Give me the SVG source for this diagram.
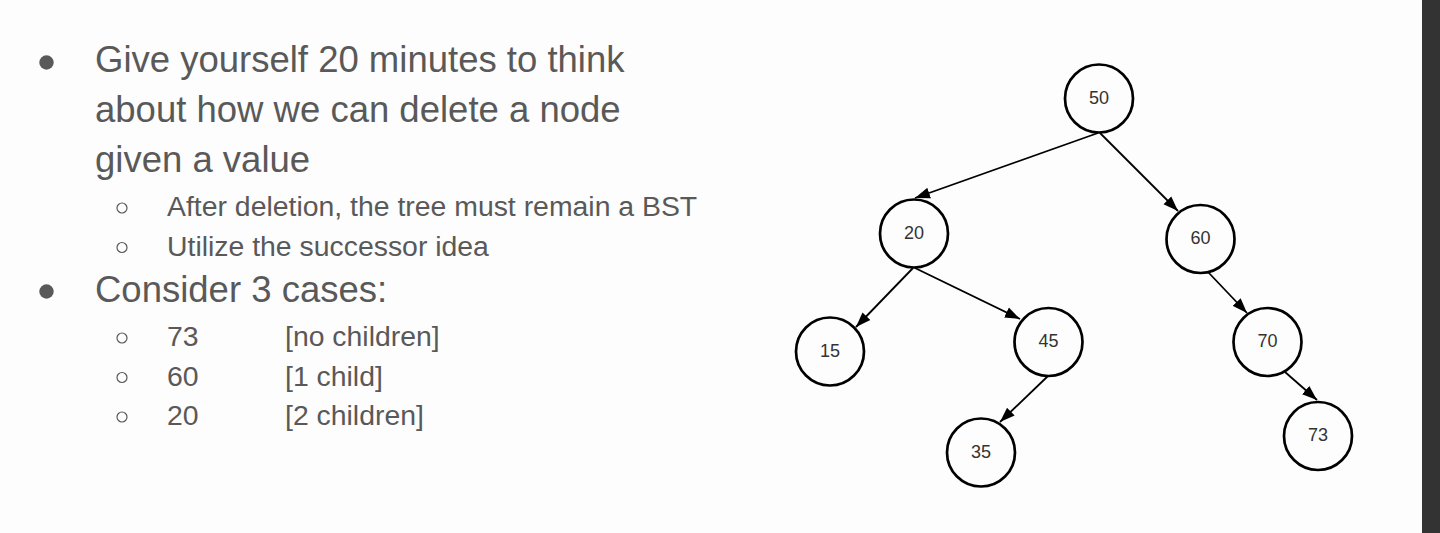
<svg xmlns="http://www.w3.org/2000/svg" width="1440" height="533" viewBox="0 0 1440 533">
<defs>
<style>
.t{font-family:"Liberation Sans",Arial,sans-serif;fill:#595959}
.h{font-size:36.5px}
.s{font-size:28.4px}
.node circle{fill:none;stroke:#000;stroke-width:2.7}
.node text{font-family:"Liberation Sans",Arial,sans-serif;font-size:18px;fill:#333;text-anchor:middle}
.edge{stroke:#000;stroke-width:1.8;fill:none;marker-end:url(#ah)}
.b{fill:#595959}
.sb{fill:none;stroke:#595959;stroke-width:1.2}
</style>
<marker id="ah" markerUnits="userSpaceOnUse" markerWidth="16" markerHeight="12" refX="15" refY="6" orient="auto" viewBox="0 0 16 12">
<path d="M0,0.5 L15,6 L0,11.5 z" fill="#000"/>
</marker>
</defs>
<rect x="0" y="0" width="1440" height="533" fill="#fdfdfd"/>
<rect x="1422" y="0" width="18" height="533" fill="#333"/>
<g id="text">
<circle class="b" cx="46.5" cy="62.5" r="7.2"/>
<text class="t h" x="95" y="72">Give yourself 20 minutes to think</text>
<text class="t h" x="95" y="122">about how we can delete a node</text>
<text class="t h" x="95" y="172">given a value</text>
<circle class="sb" cx="122" cy="208" r="5"/>
<text class="t s" x="167" y="216">After deletion, the tree must remain a BST</text>
<circle class="sb" cx="122" cy="247.5" r="5"/>
<text class="t s" x="167" y="255.5">Utilize the successor idea</text>
<circle class="b" cx="46.5" cy="291.5" r="7.2"/>
<text class="t h" x="95" y="302">Consider 3 cases:</text>
<circle class="sb" cx="122" cy="338" r="5"/>
<text class="t s" x="167" y="346">73</text>
<text class="t s" x="285" y="346">[no children]</text>
<circle class="sb" cx="122" cy="377.5" r="5"/>
<text class="t s" x="167" y="385.5">60</text>
<text class="t s" x="285" y="385.5">[1 child]</text>
<circle class="sb" cx="122" cy="417" r="5"/>
<text class="t s" x="167" y="425">20</text>
<text class="t s" x="285" y="425">[2 children]</text>
</g>
<g id="connectors">
<line class="edge" x1="1098" y1="133" x2="915" y2="198"/>
<line class="edge" x1="1100" y1="133" x2="1178" y2="211"/>
<line class="edge" x1="913" y1="268" x2="856" y2="327"/>
<line class="edge" x1="915" y1="268" x2="1020" y2="319"/>
<line class="edge" x1="1048" y1="376" x2="1000" y2="422"/>
<line class="edge" x1="1208" y1="272" x2="1247" y2="313"/>
<line class="edge" x1="1285" y1="372" x2="1317" y2="400"/>
</g>
<g id="n50" class="node"><circle cx="1099" cy="98.5" r="34"/><text x="1099" y="103.5">50</text></g>
<g id="n20" class="node"><circle cx="914" cy="233.5" r="34"/><text x="914" y="238.5">20</text></g>
<g id="n60" class="node"><circle cx="1200.5" cy="239" r="34"/><text x="1200.5" y="244">60</text></g>
<g id="n15" class="node"><circle cx="830" cy="351.5" r="34"/><text x="830" y="356.5">15</text></g>
<g id="n45" class="node"><circle cx="1048.5" cy="342" r="34"/><text x="1048.5" y="347">45</text></g>
<g id="n35" class="node"><circle cx="981" cy="452.5" r="34"/><text x="981" y="457.5">35</text></g>
<g id="n70" class="node"><circle cx="1267.5" cy="342" r="34"/><text x="1267.5" y="347">70</text></g>
<g id="n73" class="node"><circle cx="1318" cy="436" r="34"/><text x="1318" y="441">73</text></g>
</svg>
